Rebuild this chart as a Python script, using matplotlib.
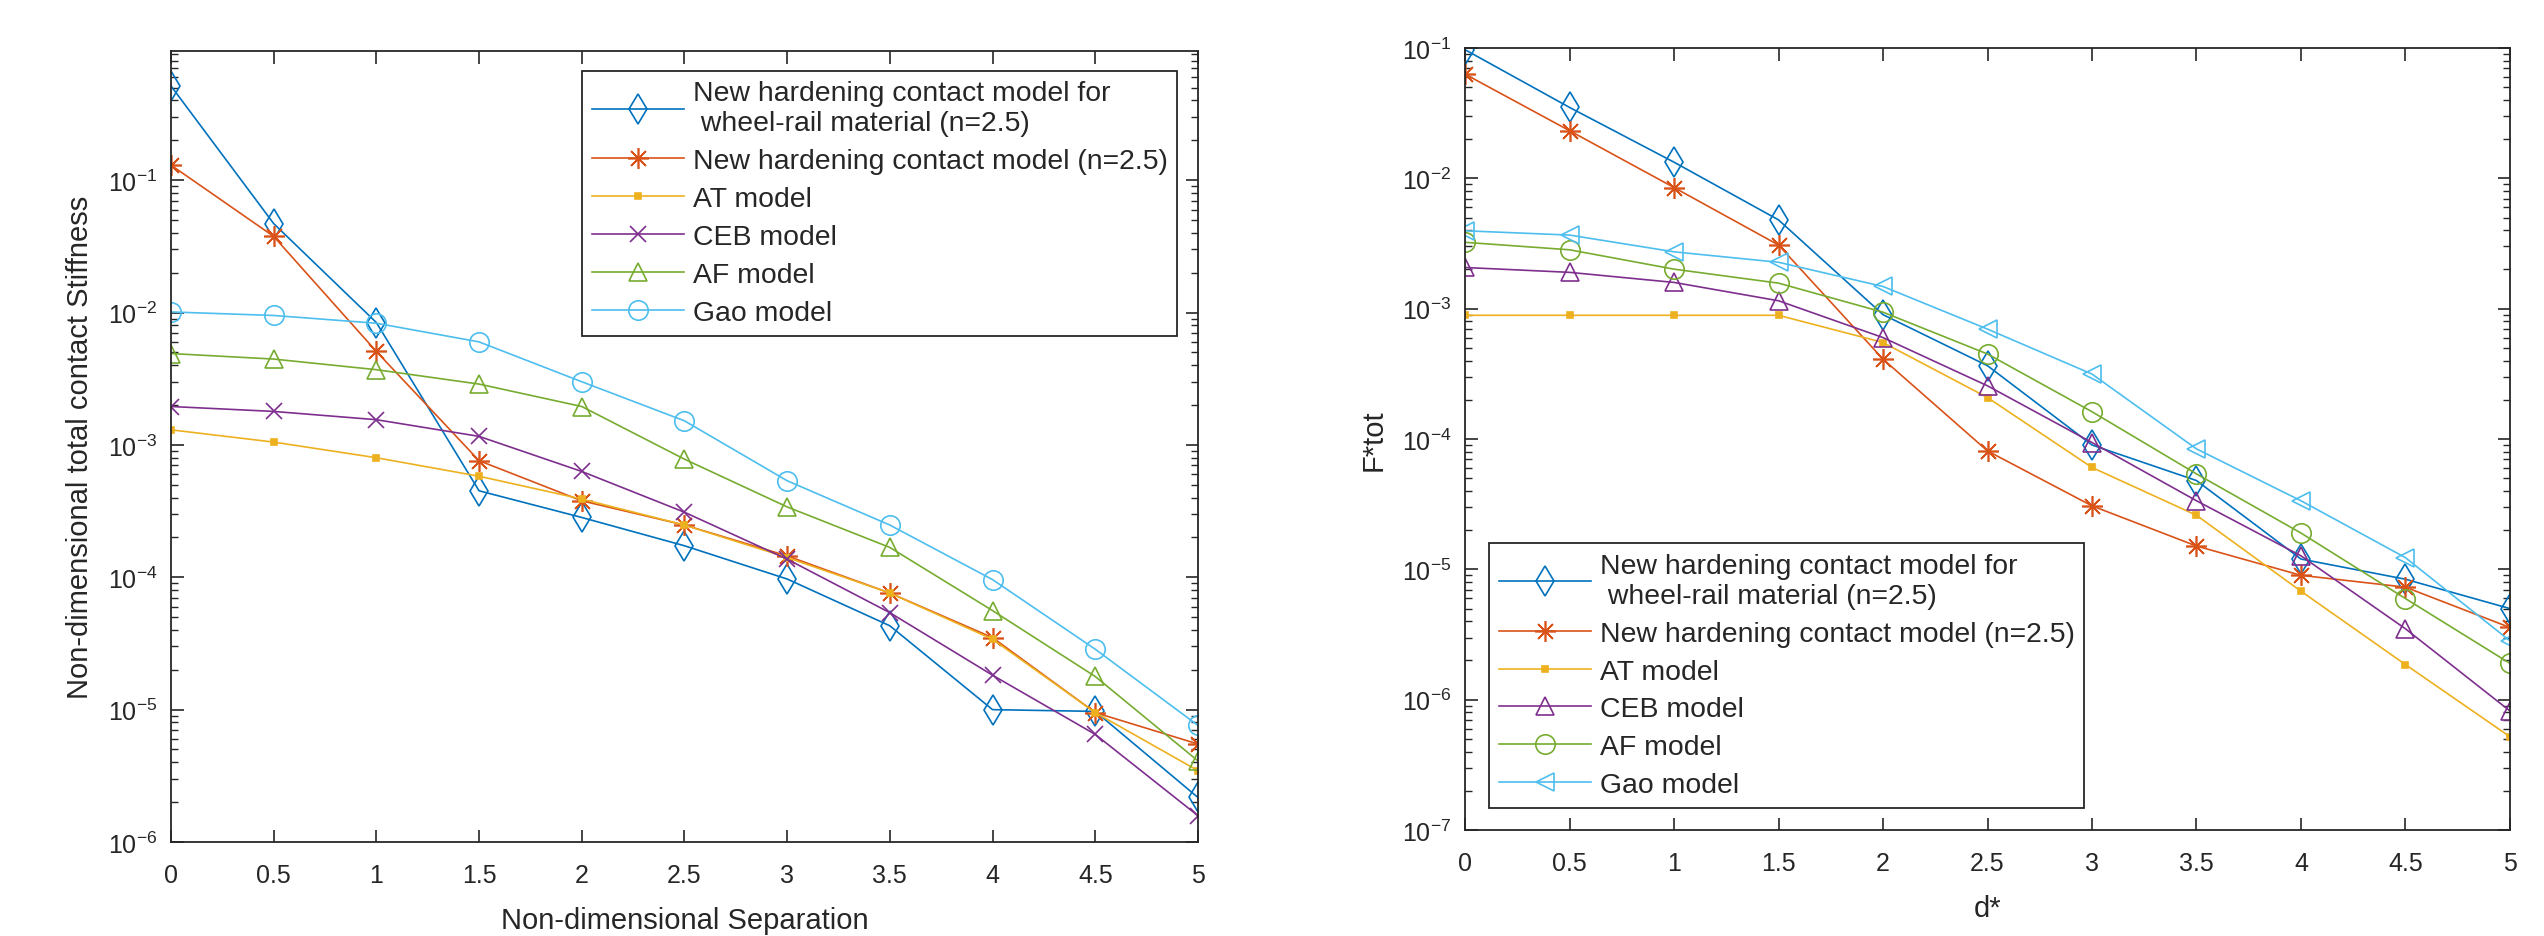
import numpy as np
import matplotlib
matplotlib.use("Agg")
import matplotlib.pyplot as plt
from matplotlib.ticker import LogLocator, NullFormatter, LogFormatterSciNotation

plt.rcParams["font.family"] = ["Liberation Sans", "DejaVu Sans"]
plt.rcParams["mathtext.fontset"] = "custom"
plt.rcParams["mathtext.rm"] = "Liberation Sans"
plt.rcParams["mathtext.it"] = "Liberation Sans:italic"

x = [0, 0.5, 1, 1.5, 2, 2.5, 3, 3.5, 4, 4.5, 5]
xticks = [0, 0.5, 1, 1.5, 2, 2.5, 3, 3.5, 4, 4.5, 5]
xticklabels = ["0", "0.5", "1", "1.5", "2", "2.5", "3", "3.5", "4", "4.5", "5"]

labels = [
    "New hardening contact model for\n wheel-rail material (n=2.5)",
    "New hardening contact model (n=2.5)",
    "AT model",
    "CEB model",
    "AF model",
    "Gao model",
]
colors = ["#0072BD", "#D95319", "#EDB120", "#7E2F8E", "#77AC30", "#4DBEEE"]

# left panel: non-dimensional total contact stiffness
stiff_wheelrail = [0.515, 0.047, 0.0084, 4.5e-4, 2.83e-4, 1.73e-4, 9.7e-5, 4.3e-5, 1.0e-5, 9.7e-6, 2.17e-6]
stiff_new = [0.13, 0.0376, 5.08e-3, 7.6e-4, 3.78e-4, 2.48e-4, 1.45e-4, 7.6e-5, 3.5e-5, 9.5e-6, 5.5e-6]
stiff_at = [1.3e-3, 1.05e-3, 8.0e-4, 5.8e-4, 3.9e-4, 2.48e-4, 1.41e-4, 7.6e-5, 3.4e-5, 9.5e-6, 3.46e-6]
stiff_ceb = [1.95e-3, 1.79e-3, 1.55e-3, 1.16e-3, 6.3e-4, 3.1e-4, 1.37e-4, 5.4e-5, 1.82e-5, 6.5e-6, 1.58e-6]
stiff_af = [4.9e-3, 4.45e-3, 3.7e-3, 2.88e-3, 1.95e-3, 7.8e-4, 3.4e-4, 1.68e-4, 5.6e-5, 1.78e-5, 4.1e-6]
stiff_gao = [0.0101, 9.5e-3, 8.3e-3, 6.0e-3, 3.0e-3, 1.52e-3, 5.36e-4, 2.48e-4, 9.6e-5, 2.86e-5, 7.6e-6]

# right panel: F*tot
force_wheelrail = [0.097, 0.035, 0.0133, 4.8e-3, 9.0e-4, 3.65e-4, 9.0e-5, 4.8e-5, 1.2e-5, 8.4e-6, 5.0e-6]
force_new = [0.063, 0.0232, 8.5e-3, 3.08e-3, 4.1e-4, 8.1e-5, 3.07e-5, 1.51e-5, 9.0e-6, 7.3e-6, 3.58e-6]
force_at = [8.9e-4, 8.9e-4, 8.9e-4, 8.9e-4, 5.5e-4, 2.08e-4, 6.05e-5, 2.6e-5, 6.8e-6, 1.86e-6, 5.2e-7]
force_ceb = [2.07e-3, 1.9e-3, 1.59e-3, 1.15e-3, 6.0e-4, 2.56e-4, 9.4e-5, 3.36e-5, 1.27e-5, 3.5e-6, 8.2e-7]
force_af = [3.23e-3, 2.83e-3, 2.01e-3, 1.57e-3, 9.4e-4, 4.49e-4, 1.62e-4, 5.4e-5, 1.9e-5, 5.97e-6, 1.9e-6]
force_gao = [3.96e-3, 3.67e-3, 2.73e-3, 2.27e-3, 1.48e-3, 6.97e-4, 3.15e-4, 8.4e-5, 3.36e-5, 1.23e-5, 2.83e-6]

left_series = [stiff_wheelrail, stiff_new, stiff_at, stiff_ceb, stiff_af, stiff_gao]
right_series = [force_wheelrail, force_new, force_at, force_ceb, force_af, force_gao]

asterisk = (8, 2, 0)
left_markers = [("d", 15), (asterisk, 15), ("s", 4), ("x", 12), ("^", 13), ("o", 14)]
right_markers = [("d", 15), (asterisk, 15), ("s", 4), ("^", 13), ("o", 14), ("<", 13)]

text_col = "#262626"


def style_axes(ax, ylim):
    ax.set_yscale("log")
    ax.set_xlim(0, 5)
    ax.set_ylim(*ylim)
    ax.set_xticks(xticks)
    ax.set_xticklabels(xticklabels)
    ax.yaxis.set_major_locator(LogLocator(base=10, numticks=20))
    ax.yaxis.set_major_formatter(LogFormatterSciNotation())
    ax.yaxis.set_minor_locator(LogLocator(base=10, subs=np.arange(2, 10), numticks=20))
    ax.yaxis.set_minor_formatter(NullFormatter())
    ax.tick_params(axis="both", which="major", direction="in", length=9, width=1.2,
                   top=True, right=True, labelsize=18, labelcolor=text_col, colors=text_col, pad=10)
    ax.tick_params(axis="x", which="major", pad=15)
    ax.tick_params(axis="y", which="minor", direction="in", length=5, width=1.0,
                   left=True, right=True, colors=text_col)
    for sp in ax.spines.values():
        sp.set_linewidth(1.3)
        sp.set_color(text_col)


def draw(ax, series, markers):
    for vals, lab, col, (m, ms) in zip(series, labels, colors, markers):
        filled = m in ("s", "x") or m == asterisk
        ax.plot(x, vals, color=col, linewidth=1.2, marker=m, markersize=ms,
                markerfacecolor=col if filled else "none", markeredgecolor=col,
                markeredgewidth=1.2, label=lab)


def add_legend(ax, loc, anchor):
    leg = ax.legend(loc=loc, bbox_to_anchor=anchor, fontsize=20.4, borderaxespad=0,
                    frameon=True, fancybox=False, edgecolor="#262626", framealpha=1,
                    handlelength=3.25, labelspacing=0.42, borderpad=0.35, handletextpad=0.3)
    leg.get_frame().set_linewidth(1.3)
    for t in leg.get_texts():
        t.set_color(text_col)
    return leg


fig = plt.figure(figsize=(25.44, 9.37), dpi=100)
ax1 = fig.add_axes([0.0672, 0.1003, 0.4037, 0.8445])
ax2 = fig.add_axes([0.5759, 0.1131, 0.4107, 0.8346])

draw(ax1, left_series, left_markers)
style_axes(ax1, (1e-6, 0.95))
ax1.set_xlabel("Non-dimensional Separation", fontsize=21, color=text_col, labelpad=14)
ax1.set_ylabel("Non-dimensional total contact Stiffness", fontsize=21, color=text_col, labelpad=10)
add_legend(ax1, "upper right", (0.98, 0.975))

draw(ax2, right_series, right_markers)
style_axes(ax2, (1e-7, 1e-1))
ax2.set_xlabel("d*", fontsize=21, color=text_col, labelpad=14)
ax2.set_ylabel("F*tot", fontsize=21, color=text_col, labelpad=10)
add_legend(ax2, "lower left", (0.023, 0.028))

fig.savefig("out.png", dpi=100)
